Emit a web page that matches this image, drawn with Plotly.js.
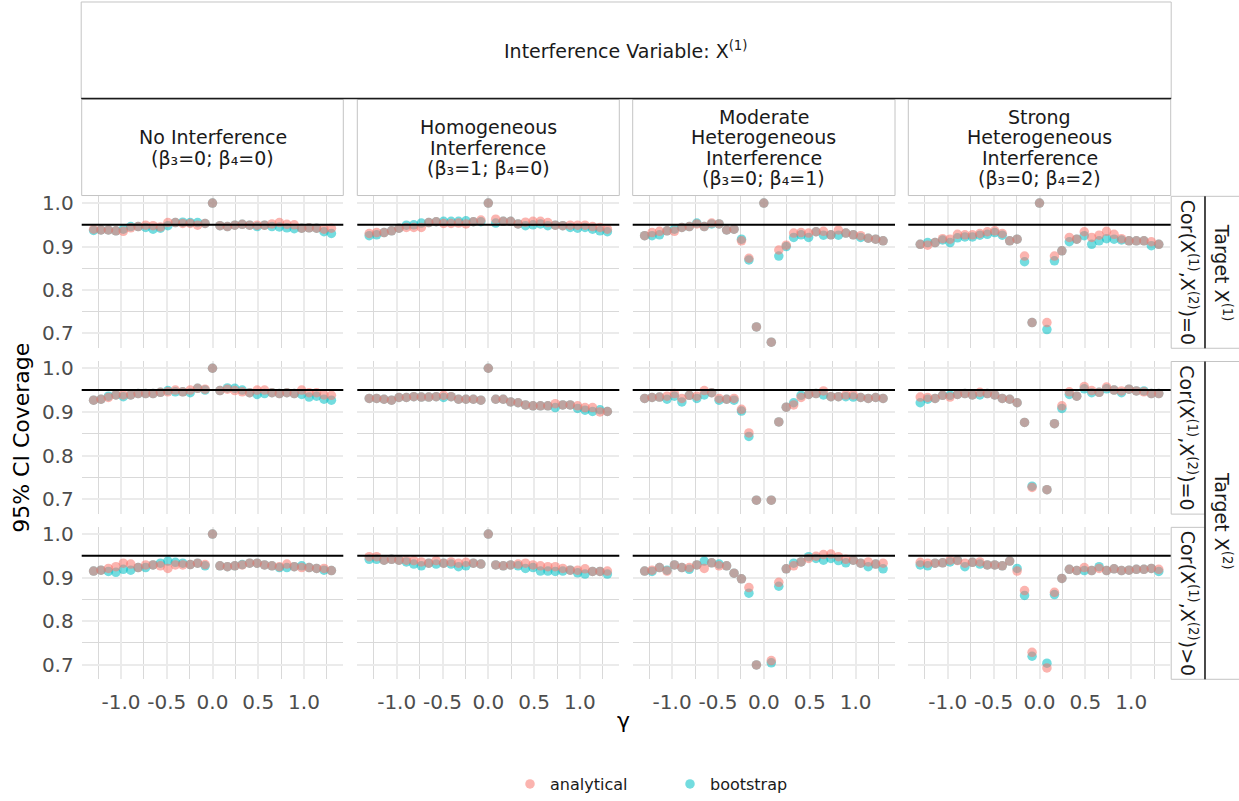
<!DOCTYPE html>
<html>
<head>
<meta charset="utf-8">
<script src="https://cdn.plot.ly/plotly-3.0.1.min.js"></script>
<style>html,body{margin:0;padding:0;background:#fff;}#chart{width:1239px;height:801px;}</style>
</head>
<body>
<div id="chart"></div>
<script>
// ---------------- DATA ----------------
const gamma = [-1.3, -1.219, -1.138, -1.056, -0.975, -0.894, -0.813, -0.731, -0.65, -0.569, -0.488, -0.406, -0.325, -0.244, -0.163, -0.081, 0,
               0.081, 0.163, 0.244, 0.325, 0.406, 0.488, 0.569, 0.65, 0.731, 0.813, 0.894, 0.975, 1.056, 1.138, 1.219, 1.3];

const colLabels = [
  ["No Interference", "(β₃=0; β₄=0)"],
  ["Homogeneous", "Interference", "(β₃=1; β₄=0)"],
  ["Moderate", "Heterogeneous", "Interference", "(β₃=0; β₄=1)"],
  ["Strong", "Heterogeneous", "Interference", "(β₃=0; β₄=2)"]
];
const rowLabels = ["Cor(X<sup>(1)</sup>,X<sup>(2)</sup>)=0", "Cor(X<sup>(1)</sup>,X<sup>(2)</sup>)=0", "Cor(X<sup>(1)</sup>,X<sup>(2)</sup>)>0"];
const targetLabels = ["Target X<sup>(1)</sup>", "Target X<sup>(2)</sup>"];
const topLabel = "Interference Variable: X<sup>(1)</sup>";
const xTickVals = [-1.0, -0.5, 0.0, 0.5, 1.0];
const xTickText = ["-1.0", "-0.5", "0.0", "0.5", "1.0"];
const yTickVals = [0.7, 0.8, 0.9, 1.0];
const yTickText = ["0.7", "0.8", "0.9", "1.0"];
const nominal = 0.95;
const seriesNames = ["analytical", "bootstrap"];

// Row 1: Target X(1), Cor = 0
const an_r1c1 = [0.940,0.938,0.938,0.936,0.935,0.943,0.946,0.949,0.948,0.945,0.955,0.955,0.953,0.953,0.949,0.953, 1.0, 0.948,0.946,0.949,0.951,0.949,0.949,0.949,0.952,0.955,0.951,0.950,0.942,0.943,0.942,0.940,0.942];
const bs_r1c1 = [0.937,0.938,0.938,0.936,0.940,0.946,0.946,0.944,0.940,0.942,0.948,0.955,0.956,0.955,0.955,0.953, 1.0, 0.948,0.946,0.949,0.951,0.949,0.946,0.949,0.946,0.945,0.943,0.941,0.942,0.943,0.942,0.934,0.930];
const an_r1c2 = [0.930,0.932,0.932,0.936,0.942,0.944,0.944,0.944,0.955,0.957,0.953,0.953,0.954,0.952,0.957,0.961, 1.0, 0.963,0.958,0.958,0.952,0.956,0.958,0.958,0.955,0.949,0.948,0.949,0.949,0.949,0.946,0.944,0.940];
const bs_r1c2 = [0.925,0.927,0.932,0.936,0.942,0.949,0.950,0.954,0.955,0.957,0.958,0.958,0.958,0.959,0.957,0.957, 1.0, 0.954,0.958,0.958,0.952,0.948,0.950,0.952,0.948,0.949,0.948,0.944,0.942,0.944,0.940,0.936,0.934];
const an_r1c3 = [0.925,0.932,0.935,0.936,0.935,0.944,0.946,0.952,0.946,0.954,0.952,0.938,0.940,0.913,0.873,0.715, 1.0, 0.680,0.892,0.903,0.931,0.932,0.931,0.934,0.935,0.927,0.938,0.931,0.927,0.925,0.919,0.917,0.913];
const bs_r1c3 = [0.925,0.925,0.927,0.936,0.940,0.944,0.946,0.954,0.946,0.952,0.952,0.938,0.940,0.917,0.869,0.715, 1.0, 0.680,0.878,0.900,0.921,0.927,0.921,0.934,0.926,0.927,0.926,0.931,0.927,0.921,0.919,0.917,0.913];
const an_r1c4 = [0.905,0.903,0.909,0.918,0.917,0.928,0.927,0.927,0.930,0.934,0.936,0.930,0.913,0.917,0.878,0.725, 1.0, 0.725,0.878,0.890,0.921,0.917,0.934,0.921,0.926,0.935,0.928,0.918,0.913,0.913,0.913,0.911,0.905];
const bs_r1c4 = [0.905,0.909,0.909,0.915,0.909,0.920,0.922,0.922,0.926,0.928,0.932,0.926,0.913,0.917,0.865,0.725, 1.0, 0.709,0.867,0.890,0.911,0.917,0.925,0.905,0.913,0.918,0.917,0.915,0.913,0.913,0.913,0.902,0.905];
// Row 2: Target X(2), Cor = 0
const an_r2c1 = [0.927,0.929,0.933,0.939,0.939,0.939,0.942,0.942,0.942,0.945,0.946,0.950,0.946,0.950,0.954,0.952, 1.0, 0.949,0.952,0.949,0.946,0.944,0.950,0.950,0.944,0.942,0.944,0.942,0.950,0.944,0.944,0.939,0.938];
const bs_r2c1 = [0.927,0.929,0.936,0.939,0.935,0.939,0.942,0.942,0.942,0.945,0.949,0.946,0.946,0.944,0.954,0.950, 1.0, 0.949,0.955,0.954,0.950,0.944,0.940,0.942,0.944,0.942,0.944,0.942,0.940,0.934,0.936,0.929,0.927];
const an_r2c2 = [0.931,0.931,0.929,0.927,0.933,0.933,0.935,0.934,0.934,0.935,0.938,0.935,0.929,0.929,0.929,0.927, 1.0, 0.929,0.929,0.923,0.921,0.916,0.914,0.914,0.914,0.919,0.916,0.916,0.914,0.910,0.910,0.900,0.901];
const bs_r2c2 = [0.931,0.931,0.929,0.927,0.933,0.933,0.935,0.934,0.934,0.935,0.933,0.935,0.929,0.929,0.929,0.927, 1.0, 0.929,0.929,0.923,0.921,0.916,0.914,0.914,0.914,0.910,0.916,0.916,0.908,0.904,0.901,0.905,0.901];
const an_r2c3 = [0.931,0.933,0.934,0.936,0.942,0.931,0.938,0.936,0.949,0.944,0.931,0.929,0.931,0.906,0.852,0.698, null, 0.698,0.877,0.911,0.916,0.933,0.940,0.942,0.948,0.935,0.935,0.939,0.939,0.933,0.931,0.933,0.931];
const bs_r2c3 = [0.931,0.933,0.934,0.929,0.936,0.923,0.938,0.931,0.939,0.944,0.927,0.929,0.927,0.902,0.844,0.698, null, 0.698,0.877,0.911,0.921,0.938,0.940,0.942,0.939,0.935,0.935,0.935,0.934,0.933,0.931,0.933,0.931];
const an_r2c4 = [0.934,0.933,0.931,0.938,0.934,0.940,0.942,0.939,0.945,0.942,0.939,0.931,0.929,0.921,0.876,0.727, null, 0.722,0.873,0.914,0.946,0.936,0.958,0.949,0.945,0.957,0.950,0.948,0.952,0.948,0.946,0.942,0.942];
const bs_r2c4 = [0.921,0.929,0.931,0.938,0.938,0.940,0.942,0.939,0.939,0.942,0.939,0.931,0.929,0.921,0.876,0.730, null, 0.722,0.873,0.908,0.940,0.936,0.953,0.944,0.945,0.953,0.950,0.944,0.952,0.948,0.948,0.942,0.942];
// Row 3: Target X(2), Cor > 0
const an_r3c1 = [0.915,0.917,0.921,0.925,0.933,0.931,0.923,0.929,0.929,0.927,0.921,0.929,0.929,0.930,0.933,0.930, 1.0, 0.927,0.925,0.927,0.929,0.933,0.933,0.929,0.927,0.925,0.931,0.925,0.923,0.923,0.921,0.921,0.916];
const bs_r3c1 = [0.915,0.917,0.914,0.912,0.919,0.917,0.923,0.923,0.929,0.933,0.938,0.935,0.933,0.930,0.933,0.927, 1.0, 0.927,0.925,0.927,0.930,0.933,0.933,0.929,0.927,0.923,0.923,0.925,0.927,0.923,0.921,0.917,0.916];
const an_r3c2 = [0.948,0.948,0.940,0.942,0.940,0.940,0.939,0.936,0.933,0.939,0.933,0.936,0.933,0.935,0.933,0.931, 1.0, 0.929,0.927,0.929,0.931,0.933,0.929,0.927,0.925,0.925,0.921,0.917,0.917,0.920,0.914,0.914,0.915];
const bs_r3c2 = [0.942,0.942,0.940,0.942,0.940,0.936,0.931,0.927,0.933,0.931,0.933,0.931,0.925,0.927,0.933,0.931, 1.0, 0.929,0.927,0.929,0.927,0.921,0.923,0.915,0.915,0.914,0.915,0.917,0.911,0.908,0.914,0.914,0.908];
const an_r3c3 = [0.915,0.917,0.923,0.915,0.929,0.923,0.923,0.929,0.921,0.934,0.927,0.927,0.910,0.897,0.877,0.699, null, 0.709,0.889,0.920,0.927,0.936,0.944,0.949,0.953,0.954,0.948,0.942,0.940,0.933,0.936,0.931,0.933];
const bs_r3c3 = [0.915,0.914,0.923,0.917,0.929,0.923,0.919,0.929,0.938,0.934,0.931,0.927,0.910,0.897,0.864,0.699, null, 0.704,0.880,0.920,0.933,0.936,0.948,0.944,0.940,0.944,0.939,0.934,0.940,0.933,0.925,0.931,0.920];
const an_r3c4 = [0.935,0.933,0.933,0.934,0.940,0.939,0.933,0.935,0.936,0.929,0.929,0.927,0.938,0.915,0.870,0.728, null, 0.692,0.866,0.898,0.919,0.916,0.923,0.916,0.921,0.916,0.920,0.916,0.917,0.919,0.919,0.921,0.919];
const bs_r3c4 = [0.929,0.927,0.933,0.934,0.936,0.940,0.925,0.935,0.931,0.929,0.929,0.927,0.938,0.921,0.859,0.719, null, 0.703,0.861,0.898,0.919,0.916,0.916,0.916,0.925,0.916,0.920,0.916,0.917,0.919,0.919,0.921,0.914];

const analytical = [[an_r1c1, an_r1c2, an_r1c3, an_r1c4], [an_r2c1, an_r2c2, an_r2c3, an_r2c4], [an_r3c1, an_r3c2, an_r3c3, an_r3c4]];
const bootstrap  = [[bs_r1c1, bs_r1c2, bs_r1c3, bs_r1c4], [bs_r2c1, bs_r2c2, bs_r2c3, bs_r2c4], [bs_r3c1, bs_r3c2, bs_r3c3, bs_r3c4]];

// ---------------- LAYOUT ----------------
const W = 1239, H = 801;
const FONT = "DejaVu Sans";
const RED = "#F8766D", CYAN = "#00BFC4";
const colX = [[81.7, 343.3], [357.3, 619.3], [632.7, 895.0], [908.3, 1170.7]];
const rowY = [[197.3, 350.0], [363.3, 516.7], [530.0, 682.7]];
const px = x => x / W;
const py = y => 1 - y / H;

const traces = [];
const layout = {
  width: W, height: H,
  margin: {l: 0, r: 0, t: 0, b: 0},
  paper_bgcolor: "#ffffff", plot_bgcolor: "#ffffff",
  font: {family: FONT, color: "#1a1a1a"},
  showlegend: true,
  legend: {orientation: "h", x: px(510), xanchor: "left", y: py(788), yanchor: "middle",
           font: {family: FONT, size: 16, color: "#1a1a1a"}, itemwidth: 30, tracegroupgap: 0,
           entrywidth: 115, entrywidthmode: "pixels"},
  shapes: [], annotations: []
};

for (let r = 0; r < 3; r++) {
  for (let c = 0; c < 4; c++) {
    const k = r * 4 + c;
    const sfx = k === 0 ? "" : String(k + 1);
    const xa = "x" + sfx, ya = "y" + sfx;
    layout["xaxis" + sfx] = {
      domain: [px(colX[c][0]), px(colX[c][1])], anchor: ya,
      range: [-1.43, 1.43], showline: false, zeroline: false, ticks: "",
      tickvals: xTickVals, ticktext: xTickText, showticklabels: r === 2,
      tickfont: {family: FONT, size: 20, color: "#4d4d4d"}, ticklabelstandoff: 9,
      showgrid: true, gridcolor: "#ebebeb", gridwidth: 2,
      minor: {dtick: 0.25, tick0: 0, showgrid: true, gridcolor: "#d9d9d9", gridwidth: 1, ticks: ""},
      fixedrange: true
    };
    layout["yaxis" + sfx] = {
      domain: [py(rowY[r][1]), py(rowY[r][0])], anchor: xa,
      range: [0.666, 1.0155], showline: false, zeroline: false, ticks: "",
      tickvals: yTickVals, ticktext: yTickText, showticklabels: c === 0,
      tickfont: {family: FONT, size: 20, color: "#4d4d4d"}, ticklabelstandoff: 7,
      showgrid: true, gridcolor: "#ebebeb", gridwidth: 2,
      minor: {dtick: 0.05, tick0: 0.65, showgrid: true, gridcolor: "#d9d9d9", gridwidth: 1, ticks: ""},
      fixedrange: true
    };
    traces.push({
      type: "scatter", mode: "markers", x: gamma, y: bootstrap[r][c], xaxis: xa, yaxis: ya,
      name: seriesNames[1], legendgroup: "bs", showlegend: k === 0, legendrank: 2,
      marker: {color: CYAN, size: 9.5, opacity: 0.55, line: {width: 0}}, hoverinfo: "skip"
    });
    traces.push({
      type: "scatter", mode: "markers", x: gamma, y: analytical[r][c], xaxis: xa, yaxis: ya,
      name: seriesNames[0], legendgroup: "an", showlegend: k === 0, legendrank: 1,
      marker: {color: RED, size: 9.5, opacity: 0.55, line: {width: 0}}, hoverinfo: "skip"
    });
    // nominal coverage reference line
    layout.shapes.push({type: "line", xref: xa + " domain", yref: ya, x0: 0, x1: 1, y0: nominal, y1: nominal,
                        line: {color: "#000000", width: 2}, layer: "above"});
  }
}

const STRIP_BORDER = "#c4c4c4";
const stripFont = {family: FONT, size: 19, color: "#1a1a1a"};
// top strip
layout.shapes.push({type: "rect", xref: "paper", yref: "paper", x0: px(81.2), x1: px(1171.2), y0: py(99), y1: py(2),
                    line: {color: STRIP_BORDER, width: 1}, fillcolor: "#ffffff", layer: "below"});
layout.shapes.push({type: "line", xref: "paper", yref: "paper", x0: px(81.2), x1: px(1171.2), y0: py(99), y1: py(99),
                    line: {color: "#1a1a1a", width: 1.5}});
layout.annotations.push({xref: "paper", yref: "paper", x: px(626.2), y: py(50), text: topLabel, showarrow: false,
                         xanchor: "center", yanchor: "middle", font: stripFont});
// column strips
for (let c = 0; c < 4; c++) {
  layout.shapes.push({type: "rect", xref: "paper", yref: "paper", x0: px(colX[c][0]), x1: px(colX[c][1]), y0: py(196.5), y1: py(100),
                      line: {color: STRIP_BORDER, width: 1}, fillcolor: "#ffffff", layer: "below"});
  const lines = colLabels[c];
  const n = lines.length, lh = 20.7, cy = 148.3;
  lines.forEach((t, i) => {
    layout.annotations.push({xref: "paper", yref: "paper", x: px((colX[c][0] + colX[c][1]) / 2),
      y: py(cy + (i - (n - 1) / 2) * lh), text: t, showarrow: false, xanchor: "center", yanchor: "middle", font: stripFont});
  });
}
// row strips
for (let r = 0; r < 3; r++) {
  layout.shapes.push({type: "rect", xref: "paper", yref: "paper", x0: px(1171.2), x1: px(1205), y0: py(rowY[r][1]), y1: py(rowY[r][0]),
                      line: {color: STRIP_BORDER, width: 1}, fillcolor: "#ffffff", layer: "below"});
  layout.annotations.push({xref: "paper", yref: "paper", x: px(1188.5), y: py((rowY[r][0] + rowY[r][1]) / 2),
    text: rowLabels[r], textangle: 90, showarrow: false, xanchor: "center", yanchor: "middle", font: stripFont});
}
// outer target strips
const targetSpans = [[rowY[0][0], rowY[0][1]], [rowY[1][0], rowY[2][1]]];
targetSpans.forEach((s, i) => {
  layout.shapes.push({type: "rect", xref: "paper", yref: "paper", x0: px(1205), x1: px(1245), y0: py(s[1]), y1: py(s[0]),
                      line: {color: STRIP_BORDER, width: 1}, fillcolor: "#ffffff", layer: "below"});
  layout.shapes.push({type: "line", xref: "paper", yref: "paper", x0: px(1205), x1: px(1205), y0: py(s[1]), y1: py(s[0]),
                      line: {color: "#1a1a1a", width: 1.5}});
  layout.annotations.push({xref: "paper", yref: "paper", x: px(1222.5), y: py((s[0] + s[1]) / 2),
    text: targetLabels[i], textangle: 90, showarrow: false, xanchor: "center", yanchor: "middle", font: stripFont});
});
// axis titles
layout.annotations.push({xref: "paper", yref: "paper", x: px(22), y: py(440), text: "95% CI Coverage", textangle: -90,
  showarrow: false, xanchor: "center", yanchor: "middle", font: {family: FONT, size: 22, color: "#000000"}});
layout.annotations.push({xref: "paper", yref: "paper", x: px(623), y: py(724), text: "γ",
  showarrow: false, xanchor: "center", yanchor: "middle", font: {family: FONT, size: 22, color: "#000000"}});

Plotly.newPlot("chart", traces, layout, {staticPlot: true, displayModeBar: false});
</script>
</body>
</html>
